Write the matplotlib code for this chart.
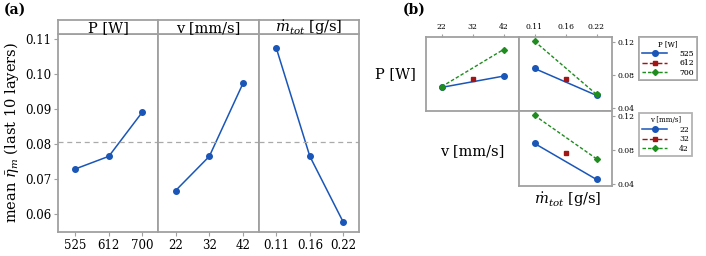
import matplotlib
matplotlib.use("Agg")
import matplotlib.pyplot as plt
from matplotlib.lines import Line2D

plt.rcParams['font.family'] = ['DejaVu Serif']
plt.rcParams['mathtext.fontset'] = 'dejavuserif'

# ---------- data ----------
P_levels = ["525", "612", "700"]
v_levels = ["22", "32", "42"]
m_levels = ["0.11", "0.16", "0.22"]

main_P = [0.0729, 0.0765, 0.0891]
main_v = [0.0667, 0.0765, 0.0974]
main_m = [0.1073, 0.0765, 0.0577]
grand_mean = 0.0806

# interaction P x v (x = v levels)
Pv_525 = [0.0648, None, 0.0784]
Pv_612 = [None, 0.0752, None]
Pv_700 = [0.0656, None, 0.1104]
# interaction P x m (x = m levels)
Pm_525 = [0.0876, None, 0.0552]
Pm_612 = [None, 0.0752, None]
Pm_700 = [0.1204, None, 0.0564]
# interaction v x m (x = m levels)
vm_22 = [0.0875, None, 0.0451]
vm_32 = [None, 0.0757, None]
vm_42 = [0.1204, None, 0.0694]

BLUE = "#1a56b8"
RED = "#a01515"
GREEN = "#1e8c1e"
FRAME = "#a0a0a0"

fig = plt.figure(figsize=(7.06, 2.56), dpi=100)

# ---------- panel (a) ----------
W, H = 706, 256
def fx(px): return px / W
def fy(py): return 1 - py / H

edges = [58, 158, 259, 359]
top_px, bot_px, head_px = 34, 232, 20
titles = ["P [W]", "v [mm/s]", r"$\dot{m}_{tot}$ [g/s]"]
mains = [main_P, main_v, main_m]
levels = [P_levels, v_levels, m_levels]
for i in range(3):
    ax = fig.add_axes([fx(edges[i]), fy(bot_px), fx(edges[i+1]-edges[i]), (bot_px-top_px)/H])
    xs = [0, 1, 2]
    ax.plot(xs, mains[i], color=BLUE, lw=1.1, marker='o', ms=4)
    ax.axhline(grand_mean, color="#aaaaaa", lw=0.9, ls=(0, (4, 3)))
    ax.set_xlim(-0.52, 2.47)
    ax.set_ylim(0.0549, 0.1114)
    ax.set_xticks(xs)
    ax.set_xticklabels(levels[i], fontsize=8.5)
    ax.set_yticks([0.06, 0.07, 0.08, 0.09, 0.10, 0.11])
    ax.set_yticklabels(["0.06", "0.07", "0.08", "0.09", "0.10", "0.11"], fontsize=8.5)
    ax.tick_params(length=3, color=FRAME, width=0.8, pad=2)
    if i > 0:
        ax.tick_params(axis='y', left=False, labelleft=False)
    else:
        ax.set_ylabel(r"mean $\bar{\eta}_m$ (last 10 layers)", fontsize=10.5, labelpad=3)
    for s in ax.spines.values():
        s.set_color(FRAME)
        s.set_linewidth(1.3)
    # header strip
    hx = fig.add_axes([fx(edges[i]), fy(top_px), fx(edges[i+1]-edges[i]), (top_px-head_px)/H])
    hx.set_xticks([]); hx.set_yticks([])
    for s in hx.spines.values():
        s.set_color(FRAME)
        s.set_linewidth(1.3)
    hx.text(0.5, 0.45, titles[i], ha='center', va='center', fontsize=10.5, transform=hx.transAxes)

fig.text(fx(4), fy(10), "(a)", fontsize=10, fontweight='bold', ha='left', va='center')
fig.text(fx(403), fy(10), "(b)", fontsize=10, fontweight='bold', ha='left', va='center')

# ---------- panel (b) ----------
bx0, bx1, bx2 = 426, 519, 612
by0, by1, by2 = 37, 111, 186

def inter(ax, a, b, c):
    xs = [0, 1, 2]
    pa = [(x, y) for x, y in zip(xs, a) if y is not None]
    pb = [(x, y) for x, y in zip(xs, b) if y is not None]
    pc = [(x, y) for x, y in zip(xs, c) if y is not None]
    ax.plot([p[0] for p in pa], [p[1] for p in pa], color=BLUE, lw=1.1, marker='o', ms=4)
    ax.plot([p[0] for p in pb], [p[1] for p in pb], color=RED, lw=1.0, ls='--', marker='s', ms=3)
    ax.plot([p[0] for p in pc], [p[1] for p in pc], color=GREEN, lw=1.0, ls=(0, (2.5, 1.5)), marker='D', ms=3)
    ax.set_xlim(-0.5, 2.5)
    ax.set_ylim(0.0364, 0.1255)
    for s in ax.spines.values():
        s.set_color(FRAME)
        s.set_linewidth(1.3)

ax_tl = fig.add_axes([fx(bx0), fy(by1), fx(bx1-bx0), (by1-by0)/H])
inter(ax_tl, Pv_525, Pv_612, Pv_700)
ax_tl.set_xticks([0, 1, 2]); ax_tl.set_xticklabels(v_levels, fontsize=5.5)
ax_tl.xaxis.tick_top()
ax_tl.set_yticks([])
ax_tl.tick_params(axis='x', length=2, color=FRAME, pad=2)

ax_tr = fig.add_axes([fx(bx1), fy(by1), fx(bx2-bx1), (by1-by0)/H])
inter(ax_tr, Pm_525, Pm_612, Pm_700)
ax_tr.set_xticks([0, 1, 2]); ax_tr.set_xticklabels(m_levels, fontsize=5.5)
ax_tr.xaxis.tick_top()
ax_tr.yaxis.tick_right()
ax_tr.set_yticks([0.04, 0.08, 0.12]); ax_tr.set_yticklabels(["0.04", "0.08", "0.12"], fontsize=5.5)
ax_tr.tick_params(length=2, color=FRAME, pad=2)

ax_br = fig.add_axes([fx(bx1), fy(by2), fx(bx2-bx1), (by2-by1)/H])
inter(ax_br, vm_22, vm_32, vm_42)
ax_br.set_ylim(0.0374, 0.1256)
ax_br.set_xticks([])
ax_br.yaxis.tick_right()
ax_br.set_yticks([0.04, 0.08, 0.12]); ax_br.set_yticklabels(["0.04", "0.08", "0.12"], fontsize=5.5)
ax_br.tick_params(length=2, color=FRAME, pad=2)

fig.text(fx(395), fy(74), "P [W]", fontsize=10.5, ha='center', va='center')
fig.text(fx(472), fy(151), "v [mm/s]", fontsize=10.5, ha='center', va='center')
fig.text(fx(568), fy(200), r"$\dot{m}_{tot}$ [g/s]", fontsize=10.5, ha='center', va='center')

def make_legend(title, labels, y_anchor):
    handles = [
        Line2D([], [], color=BLUE, lw=1.1, marker='o', ms=4),
        Line2D([], [], color=RED, lw=1.0, ls='--', marker='s', ms=3),
        Line2D([], [], color=GREEN, lw=1.0, ls=(0, (2.5, 1.5)), marker='D', ms=3),
    ]
    leg = fig.legend(handles, labels, title=title, loc='upper left',
                     bbox_to_anchor=(fx(639), fy(y_anchor)), fontsize=5.5,
                     title_fontsize=5, frameon=True, fancybox=False,
                     borderpad=0.45, handlelength=3.2, labelspacing=0.2,
                     handletextpad=1.6, borderaxespad=0)
    leg.get_frame().set_edgecolor(FRAME)
    leg.get_frame().set_linewidth(1.3)
    return leg

l1 = make_legend("P [W]", P_levels, 37)
fig.add_artist(l1)
make_legend("v [mm/s]", v_levels, 113)

fig.savefig("out.png", dpi=100)
